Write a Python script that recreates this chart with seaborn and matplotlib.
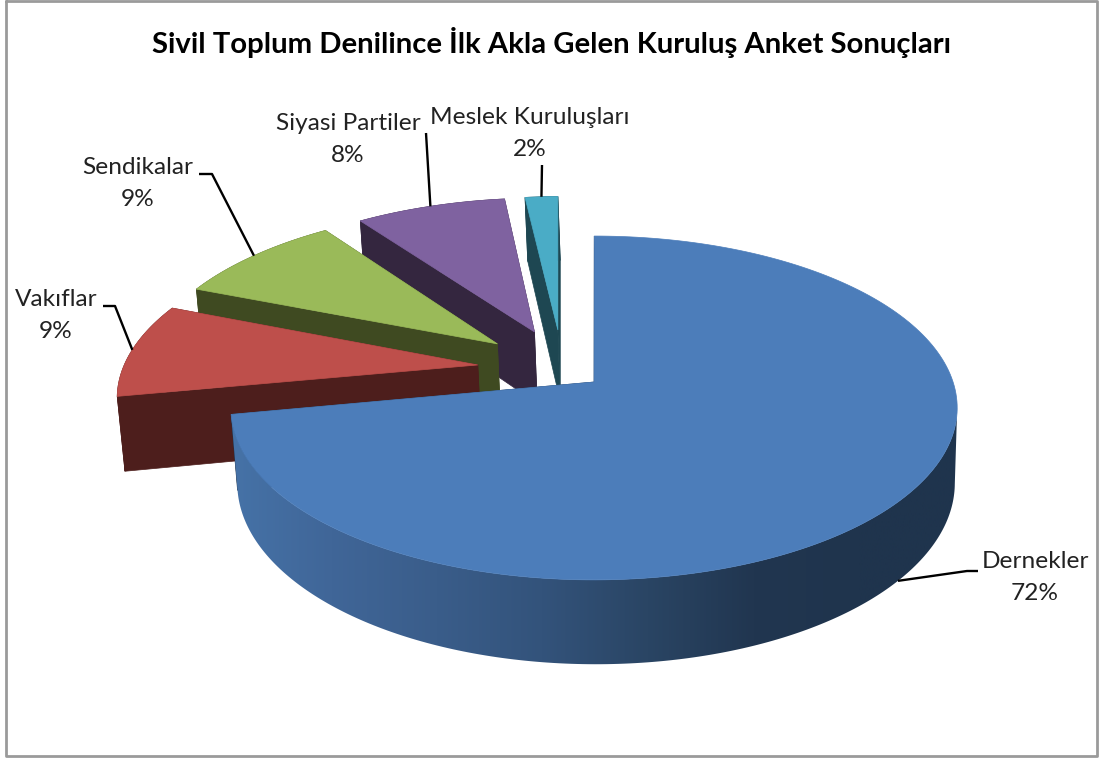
import numpy as np
import matplotlib
matplotlib.use("Agg")
import matplotlib.pyplot as plt
from matplotlib.colors import to_rgb
from matplotlib.patches import Polygon
import seaborn as sns

categories = ["Dernekler", "Vakıflar", "Sendikalar", "Siyasi Partiler", "Meslek Kuruluşları"]
values = [72, 9, 9, 8, 2]
title = "Sivil Toplum Denilince İlk Akla Gelen Kuruluş Anket Sonuçları"

top_colors = ["#4C7DBA", "#BE4F4B", "#9ABA59", "#7F62A0", "#4AACC6"]
side_colors = ["#1F344D", "#4D1E1C", "#3F4A21", "#34263F", "#1E4752"]
wall_ramp = ["#4673A8", "#406698", "#3A5D8A", "#33537B", "#2A4564", "#213650", "#1F344D", "#1F344D"]
# explosion of each slice, in units of the pie radius (right, back)
explode = [(-0.004, 0), (-0.333, 0.103), (-0.283, 0.235), (-0.178, 0.312), (-0.11, 0.325)]
# the 2% slice is drawn a bit narrower in the original
trim = [0, 0, 0, 0, 0.9]
# label centres and the elbow of the leader line, pixels
label_xy = [(1035, 562), (56, 299), (138, 167), (348, 124), (530, 117)]
leader_mid = [[(978, 571), (967, 571)], [(103, 306), (115, 306)], [(199, 174), (212, 174)],
              [(426, 133)], [(542, 165)]]

sns.set_theme(style="white")
plt.rcParams['font.family'] = ['Lato', 'DejaVu Sans']

# projection of the pie plane onto the picture
CX, CY = 595.5, 382
BX, AY, K = 359, 168, 0.151
DEPTH, KZ, SHIFT_Z = 75, 0.012, 2


def project(u, v, z=0.0):
    w = 1 + K * v + KZ * z
    return CX + BX * u / w + SHIFT_Z * z, CY - AY * v / w + DEPTH * z / w


def rim(a0, a1, off, z=0.0, n=200):
    th = np.radians(np.linspace(a0, a1, n))
    return project(np.sin(th) + off[0], np.cos(th) + off[1], z)


fig = plt.figure(figsize=(11.01, 7.58), dpi=100)
ax = fig.add_axes([0, 0, 1, 1])
ax.axis("off")

# outer frame of the chart
ax.plot([6, 1097, 1097, 6, 6], [1, 1, 756, 756, 1], color="#9A9A9A", lw=2, zorder=0)

edges = np.concatenate([[0], np.cumsum(values)]) * 3.6
# back slices first, the big one ends on top
for i in [4, 3, 2, 1, 0]:
    a0, a1 = edges[i], edges[i + 1] - trim[i]
    off = explode[i]
    zo = 2 + 5 - i
    top_x, top_y = rim(a0, a1, off)
    bot_x, bot_y = rim(a0, a1, off, 1)
    ax_x, ax_y = project(off[0], off[1])
    bx_x, bx_y = project(off[0], off[1], 1)
    # two cut faces
    for j in [0, -1]:
        ax.fill([ax_x, top_x[j], bot_x[j], bx_x], [ax_y, top_y[j], bot_y[j], bx_y],
                color=side_colors[i], lw=0.5, zorder=zo)
    # curved outer wall, the big slice has a shaded one
    if i == 0:
        # only the part from the right side round to the front shows
        wx_t, wy_t = rim(98.7, a1, off)
        wx_b, wy_b = rim(98.7, a1, off, 1)
        wall = np.column_stack([np.r_[wx_t, wx_b[::-1]], np.r_[wy_t, wy_b[::-1]]])
        grad = np.array([[to_rgb(c) for c in sns.blend_palette(wall_ramp, 256)]])
        img = ax.imshow(grad, extent=[225, 965, 700, 300], aspect="auto", zorder=zo, interpolation="bilinear")
        img.set_clip_path(Polygon(wall, transform=ax.transData))
    else:
        ax.fill(np.r_[top_x, bot_x[::-1]], np.r_[top_y, bot_y[::-1]], color=side_colors[i], lw=0.5, zorder=zo)
    ax.fill(np.r_[ax_x, top_x], np.r_[ax_y, top_y], color=top_colors[i], lw=0.5, zorder=zo)

for i, name in enumerate(categories):
    mid = (edges[i] + edges[i + 1] - trim[i]) / 2
    z = 1 if i == 0 else 0
    end_x, end_y = rim(mid, mid, explode[i], z, 1)
    pts = leader_mid[i] + [(end_x[0], end_y[0])]
    ax.plot([p[0] for p in pts], [p[1] for p in pts], color="black", lw=1.7, zorder=10,
            solid_capstyle="butt")
    x, y = label_xy[i]
    ax.text(x, y, name, ha="center", va="center", fontsize=17.6, color="#222222", zorder=11)
    ax.text(x, y + 32, f"{values[i]}%", ha="center", va="center", fontsize=17.6, color="#222222", zorder=11)

ax.text(552, 42, title, ha="center", va="center", fontsize=21.1, fontweight="bold", color="black")

ax.set_xlim(0, 1101)
ax.set_ylim(758, 0)
fig.savefig("out.png", dpi=100)
